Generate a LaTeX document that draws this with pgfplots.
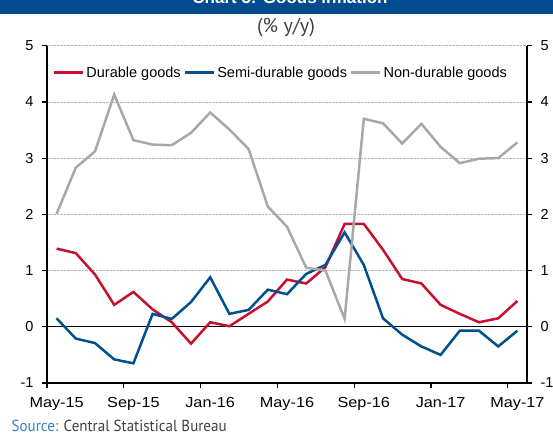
\documentclass[border=0pt]{standalone}
\usepackage{fontspec}
\setmainfont{Liberation Sans}
\newfontfamily\ptsans{PT Sans}
\usepackage{pgfplots}
\pgfplotsset{compat=1.18}
\definecolor{cred}{HTML}{C8102E}
\definecolor{cblue}{HTML}{00508F}
\definecolor{cgray}{HTML}{A8A8A8}
\definecolor{cbar}{HTML}{004C8F}
\definecolor{csrc}{HTML}{3A7FC1}
\definecolor{ctxt}{HTML}{404040}
\newcommand\sx[1]{\scalebox{1.12}[1]{#1}}
\begin{document}
\begin{tikzpicture}[x=1bp,y=1bp]
\pgfplotsset{
  base/.style={
    scale only axis, width=480bp, height=337.3bp,
    at={(47bp,52bp)}, anchor=south west,
    xmin=0, xmax=25, ymin=-1, ymax=5,
    ytick={-1,0,...,5},
    tick align=outside, major tick length=5bp,
    axis line style={line width=1.2bp, black},
    tick style={line width=1.2bp, black},
    every tick label/.append style={font=\fontsize{14.5bp}{16bp}\selectfont},
    /pgf/number format/assume math mode=true,
  }
}
\begin{axis}[base,
  axis x line*=bottom, axis y line*=left,
  xtick={0,4,...,24},
  xticklabels={\sx{May-15},\sx{Sep-15},\sx{Jan-16},\sx{May-16},\sx{Sep-16},\sx{Jan-17},\sx{May-17}},
  xticklabel style={xshift=9.6bp, yshift=-6bp},
  yticklabel style={xshift=-5bp},
  ymajorgrids, major grid style={densely dotted, gray!55, line width=0.7bp},
  extra y ticks={0}, extra y tick labels={},
  extra y tick style={grid=major, major grid style={solid, black, line width=1.2bp}},
  legend columns=3,
  legend style={at={(0.012,0.92)}, anchor=west, draw=none, fill=none,
    font=\fontsize{14.5bp}{16bp}\selectfont, inner sep=0pt,
    /tikz/every even column/.append style={column sep=1bp},
    nodes={inner xsep=2bp}},
  legend image code/.code={\draw[#1] (0bp,0bp) -- (29bp,0bp);},
]
\addplot[cred, line width=2.5bp] coordinates {
(0.5,1.39)(1.5,1.31)(2.5,0.93)(3.5,0.39)(4.5,0.62)(5.5,0.31)(6.5,0.08)(7.5,-0.30)(8.5,0.08)(9.5,0.01)(10.5,0.23)(11.5,0.45)(12.5,0.84)(13.5,0.77)(14.5,1.06)(15.5,1.83)(16.5,1.83)(17.5,1.37)(18.5,0.85)(19.5,0.77)(20.5,0.39)(21.5,0.23)(22.5,0.08)(23.5,0.15)(24.5,0.46)};
\addlegendentry{Durable goods}
\addplot[cblue, line width=2.5bp] coordinates {
(0.5,0.15)(1.5,-0.21)(2.5,-0.29)(3.5,-0.58)(4.5,-0.65)(5.5,0.23)(6.5,0.14)(7.5,0.44)(8.5,0.88)(9.5,0.23)(10.5,0.30)(11.5,0.66)(12.5,0.58)(13.5,0.94)(14.5,1.10)(15.5,1.68)(16.5,1.10)(17.5,0.15)(18.5,-0.14)(19.5,-0.35)(20.5,-0.50)(21.5,-0.07)(22.5,-0.07)(23.5,-0.35)(24.5,-0.07)};
\addlegendentry{Semi-durable goods}
\addplot[cgray, line width=2.5bp] coordinates {
(0.5,2.01)(1.5,2.83)(2.5,3.12)(3.5,4.13)(4.5,3.32)(5.5,3.24)(6.5,3.23)(7.5,3.45)(8.5,3.81)(9.5,3.51)(10.5,3.16)(11.5,2.14)(12.5,1.78)(13.5,1.05)(14.5,1.00)(15.5,0.14)(16.5,3.70)(17.5,3.62)(18.5,3.26)(19.5,3.61)(20.5,3.20)(21.5,2.91)(22.5,2.99)(23.5,3.00)(24.5,3.28)};
\addlegendentry{Non-durable goods}
\end{axis}
\begin{axis}[base,
  axis y line*=right, axis x line=none,
  yticklabel style={xshift=5bp},
]
\end{axis}
\fill[cbar] (0,421) rectangle (553,435);
\node[white, anchor=base, font=\bfseries\fontsize{17bp}{19bp}\selectfont] at (290,431) {Chart 5: Goods inflation};
\node[ctxt, font=\ptsans\fontsize{20bp}{22bp}\selectfont] at (286,407) {(\% y/y)};
\node[anchor=base west, inner sep=0pt, font=\ptsans\fontsize{16bp}{18bp}\selectfont] at (11.5,3.5) {\scalebox{0.94}[1]{\textcolor{csrc}{Source:} \textcolor{ctxt}{Central Statistical Bureau}}};
\pgfresetboundingbox
\useasboundingbox (0,0) rectangle (553,435);
\end{tikzpicture}
\end{document}
